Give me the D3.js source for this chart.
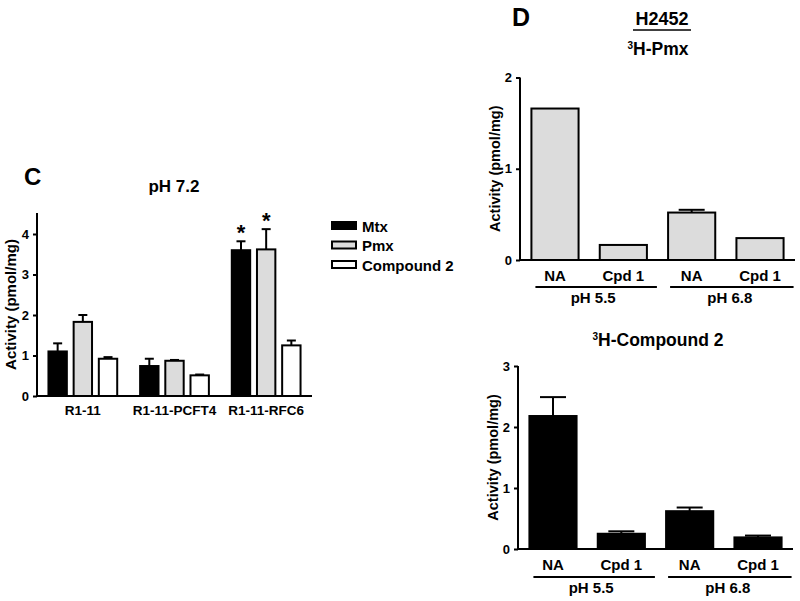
<!DOCTYPE html>
<html>
<head>
<meta charset="utf-8">
<script src="https://cdn.jsdelivr.net/npm/d3@7"></script>
<style>
  body { margin: 0; background: white; }
  svg text { font-family: "Liberation Sans", Arial, sans-serif; font-weight: bold; }
</style>
</head>
<body>
<svg id="fig" width="800" height="601"></svg>
<script>
// Panel C data
const cGroups = ["R1-11", "R1-11-PCFT4", "R1-11-RFC6"];
const cSeries = ["Mtx", "Pmx", "Compound 2"];
const cColors = ["#000000", "#dcdcdc", "#ffffff"];
const cMtx = [1.10, 0.74, 3.60];
const cMtxErr = [0.20, 0.18, 0.22];
const cPmx = [1.83, 0.87, 3.62];
const cPmxErr = [0.17, 0.02, 0.50];
const cCmp = [0.92, 0.51, 1.25];
const cCmpErr = [0.04, 0.02, 0.12];
const cStars = [false, false, true];
const cTicks = [0, 1, 2, 3, 4];

// Panel D data
const dCats = ["NA", "Cpd 1", "NA", "Cpd 1"];
const dPh = ["pH 5.5", "pH 6.8"];
const dPmx = [1.66, 0.165, 0.52, 0.24];
const dPmxErr = [0, 0, 0.03, 0];
const dCmp = [2.18, 0.25, 0.62, 0.19];
const dCmpErr = [0.31, 0.04, 0.06, 0.03];
const dPmxTicks = [0, 1, 2];
const dCmpTicks = [0, 1, 2, 3];

const svg = d3.select("#fig");

//---------- Panel C ----------
(function(){
  const x0 = 37, x1 = 312, y0 = 396, yTop = 213;
  const y = d3.scaleLinear().domain([0, 4]).range([y0, 234]);
  const xg = d3.scaleBand().domain(cGroups).range([x0, x1]).paddingInner(0.25).paddingOuter(0.125);
  const xs = d3.scaleBand().domain(cSeries).range([0, xg.bandwidth()]).paddingInner(0.27);
  const vals = [cMtx, cPmx, cCmp], errs = [cMtxErr, cPmxErr, cCmpErr];

  const g = svg.append("g");
  cGroups.forEach((grp, gi) => {
    cSeries.forEach((s, si) => {
      const bx = xg(grp) + xs(s), bw = xs.bandwidth();
      const v = vals[si][gi], e = errs[si][gi];
      const cx = bx + bw / 2;
      g.append("line").attr("x1", cx).attr("x2", cx).attr("y1", y(v)).attr("y2", y(v + e))
        .attr("stroke", "#000").attr("stroke-width", 2);
      g.append("line").attr("x1", cx - 4.5).attr("x2", cx + 4.5).attr("y1", y(v + e)).attr("y2", y(v + e))
        .attr("stroke", "#000").attr("stroke-width", 2);
      g.append("rect").attr("x", bx).attr("y", y(v)).attr("width", bw).attr("height", y0 - y(v))
        .attr("fill", cColors[si]).attr("stroke", "#000").attr("stroke-width", 2);
      if (cStars[gi] && si < 2) {
        g.append("text").attr("x", cx).attr("y", y(v + e) - 1).attr("text-anchor", "middle")
          .attr("font-size", 22).text("*");
      }
    });
  });

  const yAxis = d3.axisLeft(y).tickValues(cTicks).tickFormat(d3.format("d")).tickSize(4).tickSizeOuter(0);
  const ag = svg.append("g").attr("transform", `translate(${x0},0)`).call(yAxis);
  ag.select(".domain").attr("d", `M0,${y0}V${yTop}`).attr("stroke-width", 2);
  ag.selectAll(".tick line").attr("stroke-width", 2);
  ag.selectAll(".tick text").attr("font-size", 13).attr("dx", -1);

  svg.append("line").attr("x1", x0 - 1).attr("x2", x1).attr("y1", y0).attr("y2", y0)
    .attr("stroke", "#000").attr("stroke-width", 2);

  cGroups.forEach(grp => {
    svg.append("text").attr("x", xg(grp) + xg.bandwidth() / 2).attr("y", 415)
      .attr("text-anchor", "middle").attr("font-size", 13.5).text(grp);
  });

  svg.append("text").attr("transform", `translate(16,${(y0 + yTop) / 2}) rotate(-90)`).attr("text-anchor", "middle")
    .attr("font-size", 15).text("Activity (pmol/mg)");
  svg.append("text").attr("x", 174).attr("y", 192).attr("text-anchor", "middle").attr("font-size", 17).text("pH 7.2");
  svg.append("text").attr("x", 24).attr("y", 185).attr("font-size", 24).text("C");

  // legend
  cSeries.forEach((s, i) => {
    const ly = 226 + i * 19.5;
    svg.append("rect").attr("x", 332).attr("y", ly - 4).attr("width", 24).attr("height", 7)
      .attr("fill", cColors[i]).attr("stroke", "#000").attr("stroke-width", 2);
    svg.append("text").attr("x", 362).attr("y", ly + 5.5).attr("font-size", 15).text(s);
  });
})();

//---------- Panel D ----------
function drawD(opts){
  const {ax, y0, yTop, maxV, ticks, vals, errs, fill, tickY, lineY, phY, title, titleY, labelX} = opts;
  const x1 = ax + 275;
  const y = d3.scaleLinear().domain([0, maxV]).range([y0, yTop]);
  const x = d3.scaleBand().domain(d3.range(dCats.length)).range([ax + 8, x1 - 8]).paddingInner(0.31).paddingOuter(0.05);
  const g = svg.append("g");
  vals.forEach((v, i) => {
    const bx = x(i), bw = x.bandwidth(), cx = bx + bw / 2, e = errs[i];
    if (e > 0) {
      g.append("line").attr("x1", cx).attr("x2", cx).attr("y1", y(v)).attr("y2", y(v + e))
        .attr("stroke", "#000").attr("stroke-width", 2);
      g.append("line").attr("x1", cx - 13).attr("x2", cx + 13).attr("y1", y(v + e)).attr("y2", y(v + e))
        .attr("stroke", "#000").attr("stroke-width", 2);
    }
    g.append("rect").attr("x", bx).attr("y", y(v)).attr("width", bw).attr("height", y0 - y(v))
      .attr("fill", fill).attr("stroke", "#000").attr("stroke-width", 2);
    svg.append("text").attr("x", cx).attr("y", tickY).attr("text-anchor", "middle").attr("font-size", 15).text(dCats[i]);
  });
  const yAxis = d3.axisLeft(y).tickValues(ticks).tickFormat(d3.format("d")).tickSize(4).tickSizeOuter(0);
  const ag = svg.append("g").attr("transform", `translate(${ax},0)`).call(yAxis);
  ag.select(".domain").attr("d", `M0,${y0}V${yTop}`).attr("stroke-width", 2);
  ag.selectAll(".tick line").attr("stroke-width", 2);
  ag.selectAll(".tick text").attr("font-size", 13).attr("dx", -1);
  svg.append("line").attr("x1", ax - 1).attr("x2", x1).attr("y1", y0).attr("y2", y0)
    .attr("stroke", "#000").attr("stroke-width", 2);
  dPh.forEach((p, k) => {
    const a = x(2 * k), b = x(2 * k + 1) + x.bandwidth();
    svg.append("line").attr("x1", a + (k === 0 ? 4 : 2)).attr("x2", b + 10).attr("y1", lineY).attr("y2", lineY)
      .attr("stroke", "#000").attr("stroke-width", 2);
    svg.append("text").attr("x", (a + b) / 2 + 4).attr("y", phY).attr("text-anchor", "middle").attr("font-size", 15).text(p);
  });
  svg.append("text").attr("transform", `translate(${labelX},${(y0 + yTop) / 2}) rotate(-90)`).attr("text-anchor", "middle")
    .attr("font-size", 14.5).text("Activity (pmol/mg)");
  const t = svg.append("text").attr("x", 658).attr("y", titleY).attr("text-anchor", "middle").attr("font-size", 17.5);
  t.append("tspan").attr("font-size", 10).attr("dy", -6).text("3");
  t.append("tspan").attr("dy", 6).text(title);
}

drawD({ax: 520, y0: 260, yTop: 77.5, maxV: 2, ticks: dPmxTicks, vals: dPmx, errs: dPmxErr, fill: "#dcdcdc",
  tickY: 281, lineY: 287, phY: 303, title: "H-Pmx", titleY: 55, labelX: 500});
drawD({ax: 518, y0: 549, yTop: 366, maxV: 3, ticks: dCmpTicks, vals: dCmp, errs: dCmpErr, fill: "#000000",
  tickY: 570, lineY: 577, phY: 593, title: "H-Compound 2", titleY: 346, labelX: 498});

svg.append("text").attr("x", 512).attr("y", 26).attr("font-size", 25).text("D");
svg.append("text").attr("x", 662).attr("y", 25).attr("text-anchor", "middle").attr("font-size", 18).text("H2452");
svg.append("line").attr("x1", 633).attr("x2", 691).attr("y1", 30).attr("y2", 30).attr("stroke", "#000").attr("stroke-width", 1.5);
</script>
</body>
</html>
